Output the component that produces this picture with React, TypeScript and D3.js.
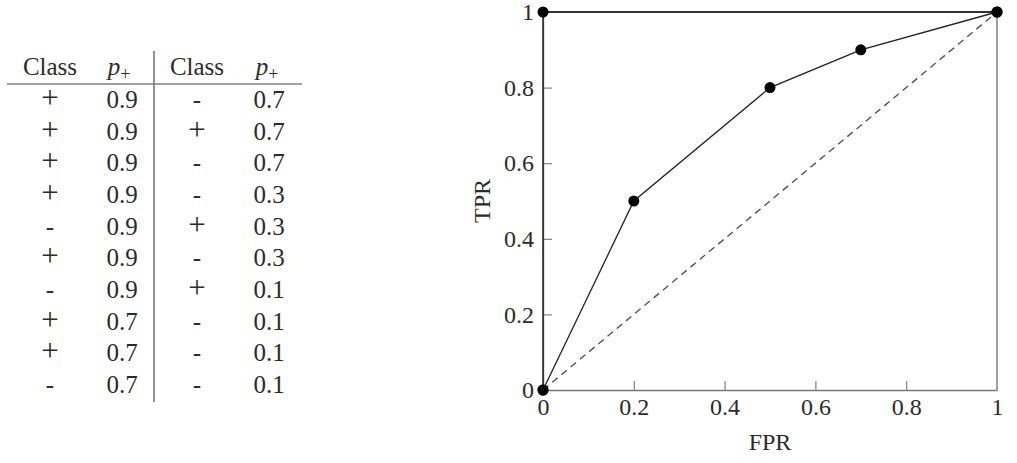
import React, { useEffect, useRef } from 'react';
import * as d3 from 'd3';

// table: scored examples, two column pairs
const leftClass = ['+', '+', '+', '+', '-', '+', '-', '+', '+', '-'];
const leftProb = ['0.9', '0.9', '0.9', '0.9', '0.9', '0.9', '0.9', '0.7', '0.7', '0.7'];
const rightClass = ['-', '+', '-', '-', '+', '-', '+', '-', '-', '-'];
const rightProb = ['0.7', '0.7', '0.7', '0.3', '0.3', '0.3', '0.1', '0.1', '0.1', '0.1'];

// ROC curve points
const rocFpr = [0, 0.2, 0.5, 0.7, 1];
const rocTpr = [0, 0.5, 0.8, 0.9, 1];

// perfect classifier
const perfectFpr = [0, 0, 1];
const perfectTpr = [0, 1, 1];

const tickValues = [0, 0.2, 0.4, 0.6, 0.8, 1];

const FONT = "'Liberation Serif', 'DejaVu Serif', serif";
const TEXT = '#2b2b2b';
const AXIS = '#777';

const App: React.FC = () => {
  const svgRef = useRef<SVGSVGElement>(null);

  useEffect(() => {
    if (!svgRef.current) return;
    const root = d3.select(svgRef.current);
    root.selectAll('*').remove();

    // ---------- table ----------
    const table = root.append('g').style('font-family', FONT).attr('font-size', 25).attr('fill', TEXT);
    const colX = [50, 122, 197, 269];
    const headerY = 75;
    const rowY = d3.scaleLinear().domain([0, 9]).range([108, 393]);

    table.append('text').attr('x', colX[0]).attr('y', headerY).attr('text-anchor', 'middle').text('Class');
    table.append('text').attr('x', colX[2]).attr('y', headerY).attr('text-anchor', 'middle').text('Class');
    [119, 267].forEach(x => {
      const t = table.append('text').attr('x', x).attr('y', headerY).attr('text-anchor', 'middle');
      t.append('tspan').attr('font-style', 'italic').text('p');
      t.append('tspan').attr('font-size', 18).attr('dy', 5).text('+');
    });

    table.append('line')
      .attr('x1', 7).attr('x2', 302).attr('y1', 84).attr('y2', 84)
      .attr('stroke', '#444').attr('stroke-width', 1.2);
    table.append('line')
      .attr('x1', 154).attr('x2', 154).attr('y1', 51).attr('y2', 402)
      .attr('stroke', AXIS).attr('stroke-width', 1.6);

    const cols = [leftClass, leftProb, rightClass, rightProb];
    cols.forEach((col, ci) => {
      const isClass = ci % 2 === 0;
      table.selectAll(null)
        .data(col)
        .enter()
        .append('text')
        .attr('x', colX[ci])
        .attr('y', (_, i) => rowY(i))
        .attr('text-anchor', 'middle')
        .attr('font-size', d => (isClass && d === '+' ? 31 : 25))
        .text(d => d);
    });

    // ---------- ROC plot ----------
    const x = d3.scaleLinear().domain([0, 1]).range([543, 997]);
    const y = d3.scaleLinear().domain([0, 1]).range([390, 12]);

    const plot = root.append('g');

    const xAxis = plot.append('g')
      .attr('transform', `translate(0,${y(0)})`)
      .call(d3.axisBottom(x).tickValues(tickValues).tickSizeInner(-9).tickSizeOuter(0).tickPadding(8).tickFormat(d => String(d)));
    const yAxis = plot.append('g')
      .attr('transform', `translate(${x(0)},0)`)
      .call(d3.axisLeft(y).tickValues(tickValues).tickSizeInner(-9).tickSizeOuter(0).tickPadding(9).tickFormat(d => String(d)));

    [xAxis, yAxis].forEach(ax => {
      ax.attr('font-family', null).attr('font-size', null);
      ax.selectAll('.domain').attr('stroke', AXIS).attr('stroke-width', 1.4);
      ax.selectAll('.tick line').attr('stroke', AXIS).attr('stroke-width', 1.1);
      ax.selectAll('.tick text')
        .style('font-family', FONT).attr('font-size', 24).attr('fill', TEXT);
    });
    // no tick marks at the box corners
    xAxis.selectAll('.tick line').filter(d => d === 0 || d === 1).remove();
    yAxis.selectAll('.tick line').filter(d => d === 0 || d === 1).remove();

    // box right and top
    plot.append('line')
      .attr('x1', x(1)).attr('x2', x(1)).attr('y1', y(0)).attr('y2', y(1))
      .attr('stroke', AXIS).attr('stroke-width', 1.4);
    plot.append('line')
      .attr('x1', x(0)).attr('x2', x(1)).attr('y1', y(1)).attr('y2', y(1))
      .attr('stroke', AXIS).attr('stroke-width', 1.4);

    // diagonal (random classifier)
    plot.append('line')
      .attr('x1', x(0)).attr('y1', y(0)).attr('x2', x(1)).attr('y2', y(1))
      .attr('stroke', '#555').attr('stroke-width', 1.4).attr('stroke-dasharray', '7,5');

    const perfect = perfectFpr.map((f, i) => [x(f), y(perfectTpr[i])] as [number, number]);
    const roc = rocFpr.map((f, i) => [x(f), y(rocTpr[i])] as [number, number]);
    const path = d3.line();

    plot.append('path').attr('d', path(perfect)).attr('fill', 'none').attr('stroke', '#111').attr('stroke-width', 1.3);
    plot.append('path').attr('d', path(roc)).attr('fill', 'none').attr('stroke', '#222').attr('stroke-width', 1.3);

    const pts = [...perfect, ...roc];
    plot.selectAll(null)
      .data(pts)
      .enter()
      .append('circle')
      .attr('cx', d => d[0])
      .attr('cy', d => d[1])
      .attr('r', 5.5)
      .attr('fill', '#000');

    // axis titles
    plot.append('text')
      .attr('x', (x(0) + x(1)) / 2).attr('y', 450)
      .attr('text-anchor', 'middle')
      .style('font-family', FONT).attr('font-size', 24).attr('fill', TEXT)
      .text('FPR');
    plot.append('text')
      .attr('transform', `translate(490,${(y(0) + y(1)) / 2}) rotate(-90)`)
      .attr('text-anchor', 'middle')
      .style('font-family', FONT).attr('font-size', 24).attr('fill', TEXT)
      .text('TPR');
  }, []);

  return (
    <svg
      ref={svgRef}
      width={1017}
      height={463}
      style={{ position: 'absolute', left: 0, top: 0, background: '#fff' }}
    />
  );
};

export default App;
